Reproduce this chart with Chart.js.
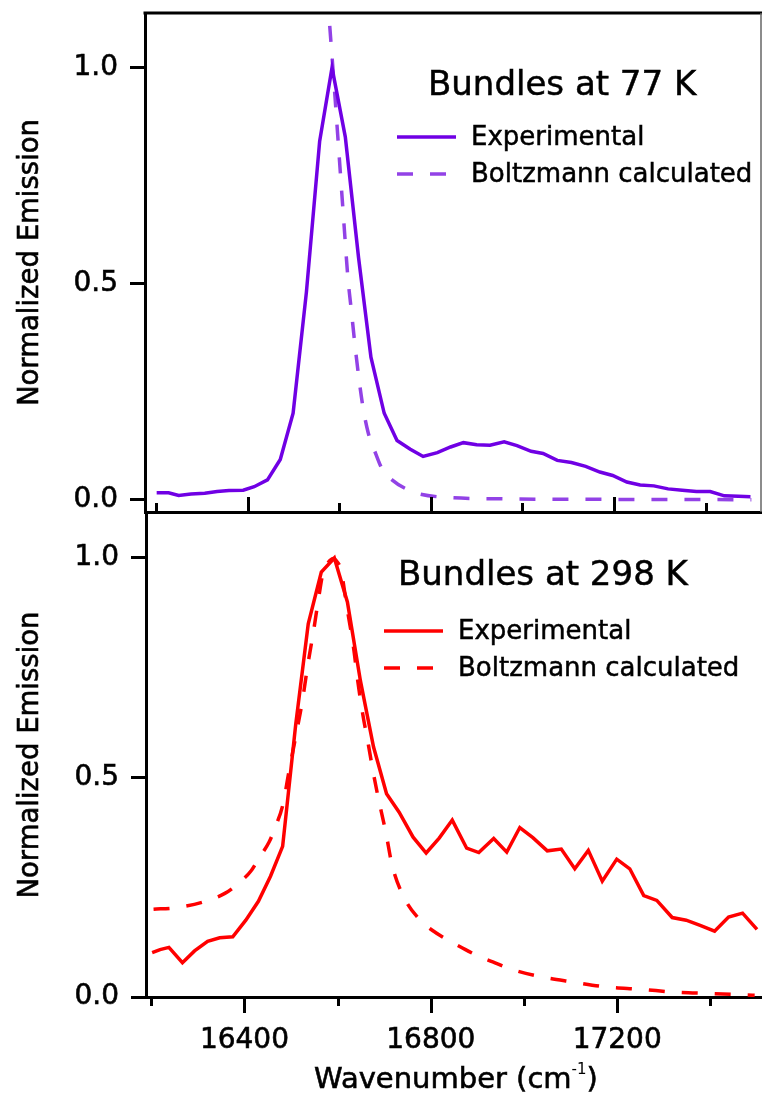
<!DOCTYPE html>
<html>
<head>
<meta charset="utf-8">
<script src="https://cdn.jsdelivr.net/npm/chart.js@4.4.1/dist/chart.umd.min.js"></script>
<style>
  html, body { margin: 0; padding: 0; background: #fff; }
  #wrap { position: relative; width: 762px; height: 1102px; overflow: hidden; }
  canvas { position: absolute; left: 0; }
  #chart77 { top: 0; }
  #chart298 { top: 500px; }
</style>
</head>
<body>
<div id="wrap">
  <canvas id="chart77" width="762" height="530"></canvas>
  <canvas id="chart298" width="762" height="602"></canvas>
</div>
<script>
// wavenumbers in cm^-1, emission normalized to the experimental maximum
const wn77Exp = [16201, 16227, 16249, 16276, 16306, 16333, 16359, 16390, 16414, 16443,
  16471, 16499, 16528, 16557, 16584, 16613, 16642, 16669, 16698, 16726,
  16755, 16783, 16814, 16843, 16871, 16900, 16929, 16960, 16988, 17019,
  17045, 17076, 17107, 17138, 17169, 17197, 17228, 17257, 17287, 17318,
  17349, 17380, 17410, 17441, 17472, 17498];
const em77Exp = [0.016, 0.016, 0.010, 0.013, 0.015, 0.019, 0.021, 0.022, 0.030, 0.046,
  0.093, 0.20, 0.48, 0.83, 1.0, 0.84, 0.56, 0.33, 0.20, 0.137,
  0.117, 0.100, 0.109, 0.122, 0.132, 0.127, 0.126, 0.134, 0.125, 0.112,
  0.107, 0.091, 0.086, 0.077, 0.064, 0.056, 0.041, 0.034, 0.032, 0.025,
  0.022, 0.019, 0.019, 0.009, 0.008, 0.007];

const wn77Calc = [16579, 16590, 16600, 16610, 16619, 16626, 16636, 16650, 16663, 16680,
  16693, 16715, 16750, 16776, 16838, 16950, 17100, 17300, 17500];
const em77Calc = [1.097, 0.94, 0.79, 0.64, 0.51, 0.44, 0.34, 0.225, 0.155, 0.105,
  0.072, 0.046, 0.023, 0.013, 0.005, 0.002, 0.001, 0.0005, 0.0];

const wn298Exp = [16202, 16219, 16238, 16267, 16293, 16321, 16347, 16375, 16403, 16430,
  16456, 16482, 16510, 16537, 16565, 16593, 16621, 16649, 16677, 16705,
  16732, 16762, 16790, 16818, 16846, 16877, 16903, 16935, 16963, 16991,
  17019, 17050, 17080, 17109, 17138, 17168, 17199, 17227, 17257, 17285,
  17318, 17348, 17378, 17409, 17439, 17469, 17500];
const em298Exp = [0.101, 0.108, 0.113, 0.078, 0.105, 0.127, 0.135, 0.137, 0.175, 0.218,
  0.275, 0.343, 0.62, 0.85, 0.968, 1.0, 0.90, 0.72, 0.57, 0.463,
  0.421, 0.364, 0.328, 0.362, 0.403, 0.339, 0.329, 0.361, 0.330, 0.386,
  0.363, 0.333, 0.337, 0.292, 0.334, 0.264, 0.314, 0.292, 0.231, 0.220,
  0.181, 0.175, 0.163, 0.150, 0.182, 0.191, 0.154];

const wn298Calc = [16205, 16250, 16310, 16358, 16384, 16414, 16431, 16453, 16466, 16483,
  16495, 16512, 16524, 16537, 16548, 16559, 16569, 16580, 16591, 16600,
  16607, 16620, 16634, 16644, 16655, 16666, 16675, 16686, 16704, 16717,
  16742, 16777, 16803, 16838, 16864, 16898, 16933, 16968, 17037, 17106,
  17175, 17253, 17322, 17400, 17495];
const em298Calc = [0.200, 0.203, 0.216, 0.236, 0.256, 0.287, 0.316, 0.353, 0.386, 0.44,
  0.51, 0.604, 0.672, 0.763, 0.831, 0.907, 0.968, 0.99, 0.999, 0.99,
  0.974, 0.888, 0.797, 0.714, 0.638, 0.575, 0.52, 0.46, 0.372, 0.30,
  0.228, 0.175, 0.152, 0.129, 0.114, 0.095, 0.080, 0.065, 0.046, 0.034,
  0.023, 0.0175, 0.011, 0.008, 0.004];

const wnTicks = [16200, 16400, 16600, 16800, 17000, 17200, 17400];
const wnLabeled = [16400, 16800, 17200];
const emTicks = [0, 0.5, 1.0];
const seriesNames = ['Experimental', 'Boltzmann calculated'];

const FONT = '"DejaVu Sans", "Noto Sans", sans-serif';
const LINE_W = 3.5;

const toPoints = (xs, ys) => xs.map((x, i) => ({ x: x, y: ys[i] }));

// filled text with a hairline stroke so it reads a little heavier
function heavyText(ctx, str, x, y) {
  ctx.fillText(str, x, y);
  ctx.strokeText(str, x, y);
}

// x tick marks: long at labelled values, short in between; inward or outward
const tickMarks = {
  id: 'tickMarks',
  afterDraw(chart, args, opts) {
    const { ctx, chartArea } = chart;
    const xs = chart.scales.x;
    ctx.save();
    ctx.strokeStyle = '#000';
    ctx.lineWidth = 3;
    wnTicks.forEach((v) => {
      const px = Math.round(xs.getPixelForValue(v)) + 0.5;
      const len = wnLabeled.includes(v) ? opts.major : opts.minor;
      ctx.beginPath();
      ctx.moveTo(px, chartArea.bottom);
      ctx.lineTo(px, chartArea.bottom + opts.dir * len);
      ctx.stroke();
    });
    ctx.restore();
  }
};

// heading, legend, axis titles and frame pieces
const panelText = {
  id: 'panelText',
  afterDraw(chart, args, o) {
    const { ctx, chartArea } = chart;
    ctx.save();
    ctx.fillStyle = '#000';

    if (o.frame) {
      ctx.strokeStyle = '#000';
      ctx.lineWidth = 3;
      ctx.beginPath();
      ctx.moveTo(chartArea.left - 1.5, chartArea.top);
      ctx.lineTo(chart.width, chartArea.top);
      ctx.stroke();
      ctx.strokeStyle = '#666';
      ctx.lineWidth = 1.5;
      ctx.beginPath();
      ctx.moveTo(chartArea.right, chartArea.top);
      ctx.lineTo(chartArea.right, chartArea.bottom);
      ctx.stroke();
    }

    ctx.font = '34px ' + FONT;
    ctx.textAlign = 'left';
    ctx.textBaseline = 'alphabetic';
    ctx.strokeStyle = '#000';
    ctx.lineWidth = 0.5;
    heavyText(ctx, o.heading, o.headingX, o.headingY);

    ctx.font = '26px ' + FONT;
    ctx.textBaseline = 'middle';
    chart.data.datasets.forEach((ds, i) => {
      const y = o.legendY + i * 37;
      ctx.strokeStyle = ds.borderColor;
      ctx.lineWidth = ds.borderWidth;
      ctx.setLineDash(ds.borderDash || []);
      ctx.beginPath();
      ctx.moveTo(o.legendX, y);
      ctx.lineTo(o.legendX + 59, y);
      ctx.stroke();
      ctx.setLineDash([]);
      ctx.strokeStyle = '#000';
      ctx.lineWidth = 0.5;
      heavyText(ctx, ds.label, o.legendX + 74, y + 1);
    });

    // y title
    ctx.save();
    ctx.translate(30.5, (chartArea.top + chartArea.bottom) / 2);
    ctx.rotate(-Math.PI / 2);
    ctx.font = '27.5px ' + FONT;
    ctx.textAlign = 'center';
    ctx.textBaseline = 'middle';
    ctx.lineWidth = 0.6;
    heavyText(ctx, 'Normalized Emission', 0, 0);
    ctx.restore();

    // x title with superscript
    if (o.xTitleY) {
      const main = 'Wavenumber (cm';
      ctx.textBaseline = 'alphabetic';
      ctx.lineWidth = 0.6;
      ctx.font = '29px ' + FONT;
      const w1 = ctx.measureText(main).width;
      const w3 = ctx.measureText(')').width;
      ctx.font = '15px ' + FONT;
      const w2 = ctx.measureText('-1').width;
      let x = o.xTitleX - (w1 + w2 + w3) / 2;
      ctx.font = '29px ' + FONT;
      heavyText(ctx, main, x, o.xTitleY);
      x += w1;
      ctx.font = '15px ' + FONT;
      ctx.fillText('-1', x, o.xTitleY - 14);
      x += w2;
      ctx.font = '29px ' + FONT;
      heavyText(ctx, ')', x, o.xTitleY);
    }
    ctx.restore();
  }
};

function makePanel(canvasId, cfg) {
  return new Chart(document.getElementById(canvasId), {
    type: 'line',
    data: {
      datasets: [
        {
          label: seriesNames[0],
          data: cfg.exp,
          borderColor: cfg.expColor,
          borderWidth: LINE_W,
          pointRadius: 0,
          tension: 0
        },
        {
          label: seriesNames[1],
          data: cfg.calc,
          borderColor: cfg.calcColor,
          borderWidth: LINE_W,
          borderDash: [16, 17],
          pointRadius: 0,
          cubicInterpolationMode: 'monotone'
        }
      ]
    },
    options: {
      responsive: false,
      animation: false,
      events: [],
      layout: { padding: { top: 13, right: 1, left: 0, bottom: 0 } },
      plugins: {
        legend: { display: false },
        tooltip: { enabled: false },
        tickMarks: cfg.ticks,
        panelText: cfg.text
      },
      scales: {
        x: {
          type: 'linear',
          min: cfg.xMin,
          max: cfg.xMax,
          grid: { display: false, drawTicks: false },
          border: { display: true, width: 3, color: '#000' },
          ticks: {
            display: cfg.showWn,
            autoSkip: false,
            maxRotation: 0,
            padding: 27,
            color: '#000',
            textStrokeColor: '#000',
            textStrokeWidth: 0.6,
            font: { family: FONT, size: 28 },
            callback: (v) => (wnLabeled.includes(v) ? String(v) : '')
          },
          afterBuildTicks: (s) => { s.ticks = wnTicks.map((v) => ({ value: v })); },
          afterFit: (s) => { s.height = cfg.xHeight; s.paddingLeft = 0; s.paddingRight = 0; }
        },
        y: {
          type: 'linear',
          min: cfg.yMin,
          max: cfg.yMax,
          grid: {
            display: true,
            drawOnChartArea: false,
            drawTicks: true,
            tickLength: 15,
            tickWidth: 3,
            tickColor: '#000'
          },
          border: { display: true, width: 3, color: '#000' },
          ticks: {
            padding: 12,
            color: '#000',
            textStrokeColor: '#000',
            textStrokeWidth: 0.6,
            font: { family: FONT, size: 28 },
            callback: (v) => v.toFixed(1)
          },
          afterBuildTicks: (s) => { s.ticks = emTicks.map((v) => ({ value: v })); },
          afterFit: (s) => { s.width = cfg.yWidth; s.paddingTop = 0; s.paddingBottom = 0; }
        }
      }
    },
    plugins: [tickMarks, panelText]
  });
}

makePanel('chart77', {
  exp: toPoints(wn77Exp, em77Exp),
  calc: toPoints(wn77Calc, em77Calc),
  expColor: 'rgb(112, 0, 228)',
  calcColor: 'rgb(146, 66, 230)',
  xMin: 16175.5, xMax: 17521,
  yMin: -0.0285, yMax: 1.1266,
  xHeight: 18, yWidth: 145,
  showWn: false,
  ticks: { dir: -1, major: 15, minor: 9 },
  text: { frame: true, heading: 'Bundles at 77 K', headingX: 428, headingY: 95, legendX: 397, legendY: 137 }
});

makePanel('chart298', {
  exp: toPoints(wn298Exp, em298Exp),
  calc: toPoints(wn298Calc, em298Calc),
  expColor: 'rgb(255, 0, 0)',
  calcColor: 'rgb(255, 0, 0)',
  xMin: 16188.8, xMax: 17508.6,
  yMin: 0, yMax: 1.1025,
  xHeight: 105, yWidth: 146,
  showWn: true,
  ticks: { dir: 1, major: 16, minor: 9 },
  text: { frame: false, heading: 'Bundles at 298 K', headingX: 398, headingY: 85, legendX: 384, legendY: 131, xTitleX: 456, xTitleY: 588 }
});
</script>
</body>
</html>
